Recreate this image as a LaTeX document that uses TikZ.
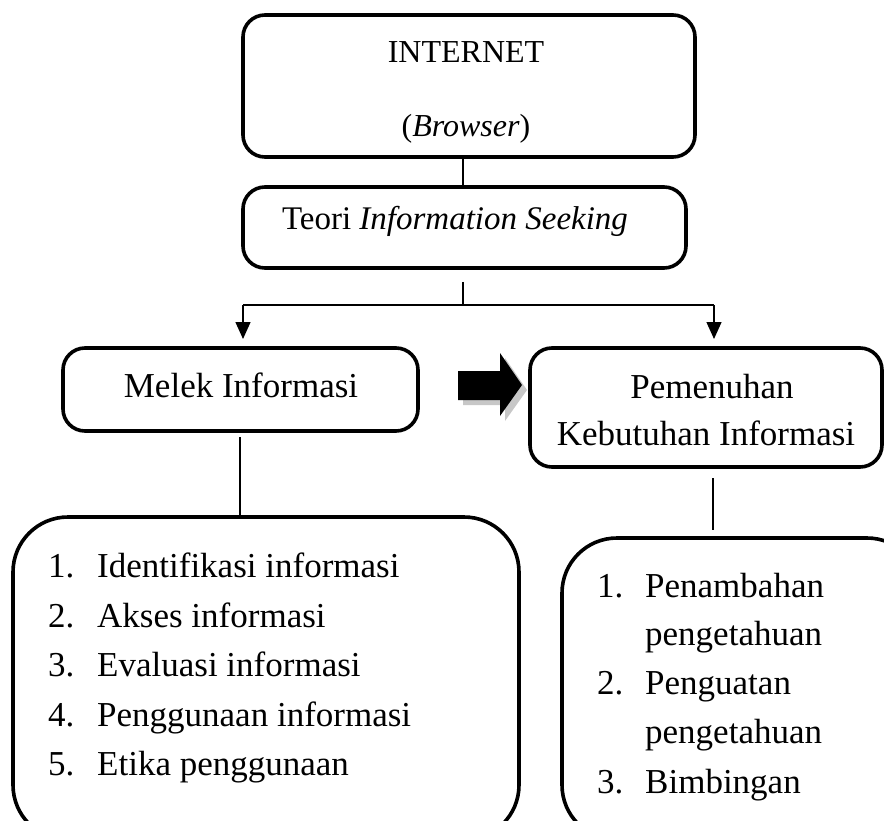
\documentclass[tikz,border=0pt]{standalone}
\usepackage{fontspec}
\setmainfont{Liberation Serif}
\usetikzlibrary{arrows.meta}
\begin{document}
\begin{tikzpicture}[x=1pt,y=-1pt,
  box/.style={draw, line width=3.6pt, rounded corners=22pt, inner sep=0pt},
  bigbox/.style={draw, line width=3.6pt, rounded corners=55pt, inner sep=0pt},
  conn/.style={line width=1.4pt},
  arr/.style={line width=1.4pt, -{Triangle[width=15pt,length=17pt]}},
  txt/.style={inner sep=0pt, anchor=base, font=\fontsize{35}{42}\selectfont},
  itm/.style={inner sep=0pt, anchor=base west, font=\fontsize{35}{42}\selectfont}
]
\useasboundingbox (0,0) rectangle (884,821);
\begin{scope}
\clip (0,0) rectangle (884,821);
% boxes
\node[box, minimum width=452pt, minimum height=142pt] (inet) at (469,86) {};
\node[box, minimum width=443pt, minimum height=81pt] (teori) at (464.5,227.5) {};
\node[box, minimum width=355pt, minimum height=83pt] (melek) at (240.5,389.5) {};
\node[box, minimum width=352pt, minimum height=119pt] (pem) at (706,407.5) {};
\node[bigbox, minimum width=506pt, minimum height=323pt] (list1) at (266,678.5) {};
\node[bigbox, minimum width=360pt, minimum height=302pt] (list2) at (742,689) {};
% texts
\node[txt, font=\fontsize{32}{38}\selectfont] (tinet) at (466,63) {INTERNET};
\node[txt, font=\fontsize{32}{38}\selectfont] (tbrow) at (466,137) {(\textit{Browser})};
\node[txt, font=\fontsize{33}{40}\selectfont] (tteori) at (455,230) {Teori \textit{Information Seeking}};
\node[txt] (tmelek) at (241,397) {Melek Informasi};
\node[txt] (tpem1) at (712,398) {Pemenuhan};
\node[txt] (tpem2) at (706,445) {Kebutuhan Informasi};
% left list
\node[itm] (n1) at (48,577) {1.}; \node[itm] (i1) at (97,577) {Identifikasi informasi};
\node[itm] (n2) at (48,627) {2.}; \node[itm] (i2) at (97,627) {Akses informasi};
\node[itm] (n3) at (48,676) {3.}; \node[itm] (i3) at (97,676) {Evaluasi informasi};
\node[itm] (n4) at (48,726) {4.}; \node[itm] (i4) at (97,726) {Penggunaan informasi};
\node[itm] (n5) at (48,775) {5.}; \node[itm] (i5) at (97,775) {Etika penggunaan};
% right list
\node[itm] (m1) at (597,597) {1.}; \node[itm] (j1) at (645,597) {Penambahan};
\node[itm] (j1b) at (645,645) {pengetahuan};
\node[itm] (m2) at (597,694) {2.}; \node[itm] (j2) at (645,694) {Penguatan};
\node[itm] (j2b) at (645,743) {pengetahuan};
\node[itm] (m3) at (597,793) {3.}; \node[itm] (j3) at (645,793) {Bimbingan};
% connectors
\draw[conn] (inet.south -| 463,0) -- (teori.north -| 463,0);
\coordinate (b0) at (463,282);
\coordinate (b1) at (463,305);
\coordinate (bl) at (243,305);
\coordinate (br) at (714,305);
\coordinate (tl) at (243,339);
\coordinate (tr) at (714,339);
\draw[conn] (b0) -- (b1);
\draw[conn] (bl) -- (br);
\draw[arr] (bl) -- (tl);
\draw[arr] (br) -- (tr);
\coordinate (c0) at (240,437);
\draw[conn] (c0) -- (list1.north -| c0);
\coordinate (d0) at (713,478);
\coordinate (d1) at (713,530);
\draw[conn] (d0) -- (d1);
% block arrow with shadow
\fill[black!22] (463,375) -- (505,375) -- (505,358) -- (527,390) -- (505,421) -- (505,405) -- (463,405) -- cycle;
\fill[black] (458,371) -- (500,371) -- (500,353) -- (522,385) -- (500,416) -- (500,400) -- (458,400) -- cycle;
\end{scope}
\end{tikzpicture}
\end{document}
